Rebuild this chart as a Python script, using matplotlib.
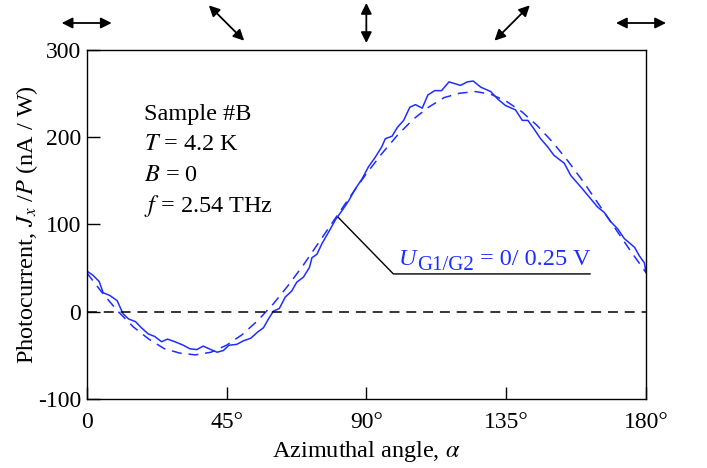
"""
Photocurrent vs azimuthal angle, sample #B
"""

import matplotlib
matplotlib.use("Agg")
import numpy as np
import matplotlib.pyplot as plt
from matplotlib.transforms import IdentityTransform

angle_meas = [0, 2, 4, 5.3, 7.4, 9.8, 11.7, 13.5, 15.7, 17.6, 19.8, 21.9, 24.1, 26,
              28.4, 31.1, 33.2, 35.4, 37.5, 40, 42, 44, 45.8, 48.3, 50.4, 52.8, 55,
              56.9, 58.5, 60.1, 62, 63.9, 66, 67.6, 69.8, 71.7, 72.5, 74.1, 75.7,
              77.8, 80, 82.2, 84.3, 86.5, 88.6, 90.7, 92.9, 95, 96.1, 98.3, 100, 102,
              104, 105.8, 108, 109.8, 112, 114.2, 116.6, 120.3, 122.5, 124.4, 126.8,
              130, 132.4, 134.8, 138, 140.2, 142, 144, 146.1, 148.3, 150.4, 153.7,
              155.8, 159, 162.3, 164.4, 166.5, 168.7, 170.9, 173, 176.3, 177.9,
              179.5, 180]
jx_meas = [47, 42, 35, 22, 19, 13, -2, -8, -11, -18, -25, -28, -34, -31,
           -34, -38, -42, -43, -39, -43, -46, -44, -38, -37, -33, -30, -23,
           -18, -8, 1, 4, 17, 24, 34, 40, 51, 62, 66, 78,
           91, 105, 116, 127, 141, 152, 166, 177, 189, 198, 201, 211, 219,
           234, 237, 233, 248, 253, 253, 263, 259, 263, 264, 257,
           252, 243, 236, 231, 219, 219, 209, 198, 189, 179, 170,
           156, 143, 129, 120, 114, 103, 95, 84, 74, 64,
           56, 45]

# fit curve (dashed)
angle_fit = [0, 5, 10, 15, 20, 25, 30, 35, 40, 45, 50, 55, 60, 65, 70, 75, 80, 85,
             90, 95, 100, 105, 110, 115, 120, 125, 130, 135, 140, 145, 150, 155,
             160, 165, 170, 175, 180]
jx_fit = [45, 22, 1, -17, -31, -42, -47, -49, -46, -38, -26, -10, 9, 31, 55, 81,
          107, 133, 158, 181, 202, 220, 234, 245, 250, 252, 249, 241, 229, 213,
          194, 172, 148, 122, 96, 70, 45]

x_ticks = [0, 45, 90, 135, 180]
x_ticklabels = ["0", "45°", "90°", "135°", "180°"]
y_ticks = [-100, 0, 100, 200, 300]

# polarization arrows on top: position (deg) and direction (deg)
pol_pos = [0, 45, 90, 135, 180]
pol_dir = [0, -45, 90, 45, 0]
pol_shift = [0, 0, 0, 6, -5]   # small pixel nudges seen in the original

info_lines = ["Sample #B", r"$T$ = 4.2 K", r"$B$ = 0", r"$f$ = 2.54 THz"]
gate_main, gate_sub, gate_rest = "U", "G1/G2", "= 0/ 0.25 V"

BLUE = "#1f2eff"


def make_plot(outfile):
    plt.rcParams["font.family"] = ["Liberation Serif", "DejaVu Serif"]
    plt.rcParams["mathtext.fontset"] = "stix"
    plt.rcParams["font.size"] = 17.5
    plt.rcParams["axes.unicode_minus"] = False

    fig = plt.figure(figsize=(7.07, 4.68), dpi=100)
    ax = fig.add_axes([0.1226, 0.1464, 0.7911, 0.7478])

    ax.plot(angle_fit, jx_fit, color=BLUE, lw=1.1, dashes=(6.5, 4.5))
    ax.plot(angle_meas, jx_meas, color=BLUE, lw=1.1)
    ax.axhline(0, color="black", lw=1.1, dashes=(6.5, 4.5))

    ax.set_xlim(0, 180)
    ax.set_ylim(-100, 300)
    ax.set_xticks(x_ticks)
    ax.set_xticklabels(x_ticklabels)
    ax.set_yticks(y_ticks)
    ax.tick_params(direction="in", length=9, width=1.0, top=False, right=False,
                   labelsize=17)
    ax.tick_params(axis="y", pad=4)
    ax.tick_params(axis="x", pad=9)
    for sp in ax.spines.values():
        sp.set_linewidth(1.0)

    ax.set_xlabel(r"Azimuthal angle, $\alpha$", labelpad=4)
    ax.set_ylabel(r"Photocurrent, $J_x$ /$P$ (nA / W)")
    ax.yaxis.set_label_coords(-0.083, 0.5)

    # sample info
    for i, line in enumerate(info_lines):
        ax.text(0.103, 0.815 - i * 0.0877, line, transform=ax.transAxes,
                ha="left", va="center")

    # leader line + gate voltage label (subscript built by hand, it is big)
    ax.plot([81, 98.7, 162], [108, 43.5, 43.5], color="black", lw=1.0)
    t_u = ax.text(100.3, 54, gate_main, color=BLUE, style="italic",
                  ha="left", va="baseline")

    fig.canvas.draw()
    rend = fig.canvas.get_renderer()
    base_y = ax.transData.transform((100.3, 54))[1]
    bb = t_u.get_window_extent(rend)
    t_s = fig.text(bb.x1 + 1, base_y - 5, gate_sub, color=BLUE, fontsize=15,
                   ha="left", va="baseline", transform=IdentityTransform())
    bb = t_s.get_window_extent(rend)
    fig.text(bb.x1 + 6, base_y, gate_rest, color=BLUE,
             ha="left", va="baseline", transform=IdentityTransform())

    # polarization arrows
    half = 25
    for pos, d, s in zip(pol_pos, pol_dir, pol_shift):
        cx = ax.transData.transform((pos, 0))[0] + s
        cy = 468 - 23
        h = half if d != 90 else 20
        dx = h * np.cos(np.radians(d))
        dy = h * np.sin(np.radians(d))
        ax.annotate("", xy=(cx + dx, cy + dy), xycoords="figure pixels",
                    xytext=(cx - dx, cy - dy), textcoords="figure pixels",
                    arrowprops=dict(arrowstyle="<|-|>", color="black", lw=1.3,
                                    mutation_scale=16, shrinkA=0, shrinkB=0),
                    annotation_clip=False)

    fig.savefig(outfile, dpi=100)


if __name__ == "__main__":
    make_plot("out.png")
